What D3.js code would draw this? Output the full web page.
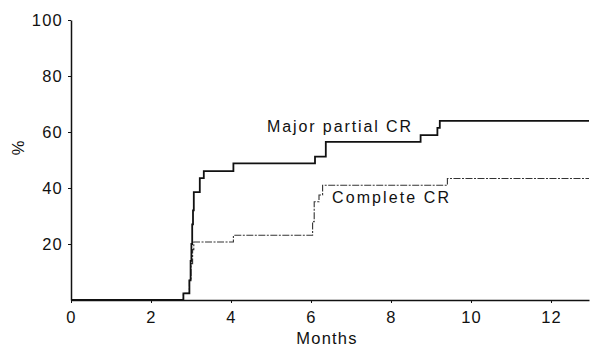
<!DOCTYPE html>
<html><head><meta charset="utf-8">
<script src="https://cdn.jsdelivr.net/npm/d3@7"></script>
<style>
html,body{margin:0;padding:0;background:#fff;}
svg text{font-family:"Liberation Sans",Arial,sans-serif;fill:#111;}
</style></head>
<body><svg id="c" width="590" height="346"></svg>
<script>
// Data (months, %)
const majorMonths = [0, 2.81, 2.96, 2.99, 3.01, 3.03, 3.05, 3.07, 3.22, 3.32, 4.06, 6.10, 6.37, 8.74, 9.16, 9.22, 12.95];
const majorPct    = [0, 2.4, 7, 14, 20, 27, 32, 38.5, 43.5, 46, 48.8, 51.2, 56.5, 58.9, 61.5, 64, 64];
const completeMonths = [0, 2.81, 2.96, 3.00, 3.04, 3.07, 4.06, 6.04, 6.08, 6.20, 6.29, 9.41, 12.95];
const completePct    = [0, 2.4, 7, 13, 18, 20.7, 23.1, 28, 35.1, 37.5, 41, 43.4, 43.4];
const xTicks = [0, 2, 4, 6, 8, 10, 12];
const yTicks = [20, 40, 60, 80, 100];
const seriesLabels = ["Major partial CR", "Complete CR"];

const svg = d3.select("#c");
const x = d3.scaleLinear().domain([0, 12.95]).range([71, 589]);
const y = d3.scaleLinear().domain([0, 100]).range([300, 20]);

// axes
const gx = svg.append("g").attr("transform", "translate(0,300)")
  .call(d3.axisBottom(x).tickValues(xTicks).tickSize(3).tickSizeOuter(0).tickPadding(6));
const gy = svg.append("g").attr("transform", "translate(71,0)")
  .call(d3.axisLeft(y).tickValues(yTicks).tickSize(3).tickSizeOuter(0).tickPadding(6));
[gx, gy].forEach(g => {
  g.select(".domain").attr("stroke", "#111").attr("stroke-width", 1.5);
  g.selectAll(".tick line").attr("stroke", "#111").attr("stroke-width", 1);
  g.selectAll(".tick text").attr("font-size", 16.5).style("letter-spacing", "1.2px")
    .attr("font-family", "Liberation Sans, Arial, sans-serif").attr("fill", "#111");
});
gx.selectAll(".tick text").attr("dy", "0.85em");
gy.selectAll(".tick text").attr("dx", "1px");

const line = d3.line().curve(d3.curveStepAfter).x(d => x(d[0])).y(d => y(d[1]));
const major = majorMonths.map((m, i) => [m, majorPct[i]]);
const complete = completeMonths.map((m, i) => [m, completePct[i]]);

svg.append("path").datum(complete).attr("d", line).attr("fill", "none")
  .attr("stroke", "#333").attr("stroke-width", 1.1).attr("stroke-dasharray", "7,1.5,2,1.5");
svg.append("path").datum(major).attr("d", line).attr("fill", "none")
  .attr("stroke", "#111").attr("stroke-width", 1.8);

// series labels
svg.append("text").attr("x", 267).attr("y", 132).attr("font-size", 16)
  .style("letter-spacing", "1.9px").text(seriesLabels[0]);
svg.append("text").attr("x", 332).attr("y", 203).attr("font-size", 16)
  .style("letter-spacing", "2.1px").text(seriesLabels[1]);

// axis titles
svg.append("text").attr("x", 327).attr("y", 344).attr("text-anchor", "middle")
  .attr("font-size", 16.5).style("letter-spacing", "1.2px").text("Months");
svg.append("text").attr("transform", "translate(24,148) rotate(-90)")
  .attr("text-anchor", "middle").attr("font-size", 16.5).text("%");
</script></body></html>
